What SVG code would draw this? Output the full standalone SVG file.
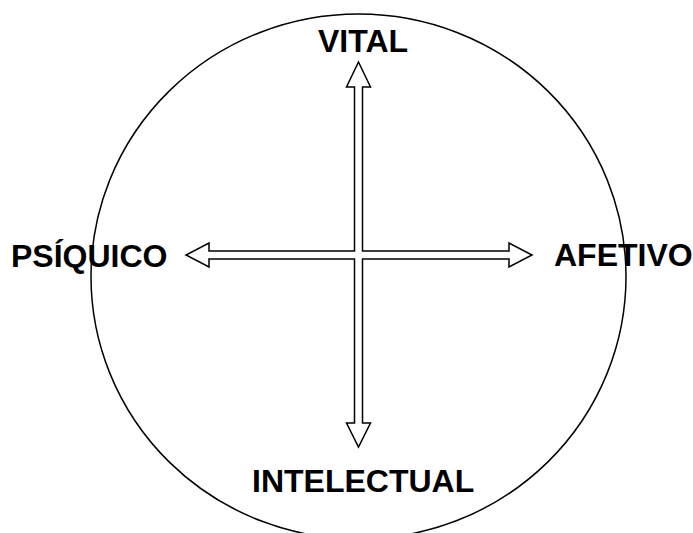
<svg xmlns="http://www.w3.org/2000/svg" width="693" height="533" viewBox="0 0 693 533">
<style>
.lbl{font-family:"Liberation Sans",Arial,sans-serif;font-weight:bold;font-size:32px;fill:#000}
.ln{fill:none;stroke:#000;stroke-width:1.5}
.arr{fill:#fff;stroke:#000;stroke-width:1.5;stroke-linejoin:miter}
</style>
<rect width="693" height="533" fill="#fff"/>
<g id="circle"><ellipse class="ln" cx="358.5" cy="276.5" rx="267.5" ry="262.5"/></g>
<g id="connectors">
<path class="arr" d="M358.5,62 L370.5,87 L362.5,87 L362.5,251 L509,251 L509,243 L532,255 L509,267 L509,259 L362.5,259 L362.5,423 L370.5,423 L358.5,447 L346.5,423 L354.5,423 L354.5,259 L209,259 L209,267 L186,255 L209,243 L209,251 L354.5,251 L354.5,87 L346.5,87 Z"/>
</g>
<g id="vital"><text class="lbl" x="363" y="52" text-anchor="middle">VITAL</text></g>
<g id="intelectual"><text class="lbl" x="252" y="492">INTELECTUAL</text></g>
<g id="psiquico"><text class="lbl" x="11" y="267">PSÍQUICO</text></g>
<g id="afetivo"><text class="lbl" x="554" y="266">AFETIVO</text></g>
</svg>
